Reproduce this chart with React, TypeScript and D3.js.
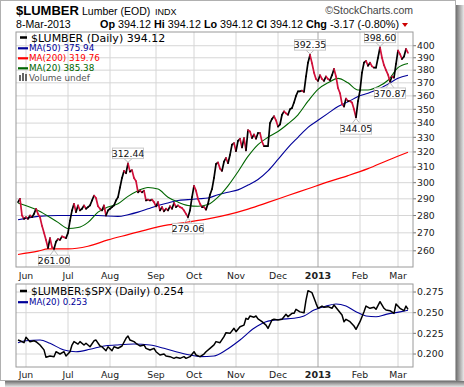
import React from 'react';
import * as d3 from 'd3';

// ---------- DATA ----------
const startDate = '2012-05-25';
const endDate = '2013-03-08';
const holidays = ['2012-05-28', '2012-07-04', '2012-09-03', '2012-10-29', '2012-10-30', '2012-11-22', '2012-12-25', '2013-01-01', '2013-01-21', '2013-02-18'];

// daily closes, one per trading day
const closes = [
  288, 290, 280, 278, 279, 278, 280, 279, 281, 284,
  281, 279, 274, 270, 266, 261.5, 267, 262, 261, 265,
  266.5, 266, 268, 267.5, 267, 270, 277, 283, 287, 282,
  286, 283, 284, 286, 284, 285, 286, 289, 292, 290.5,
  285.5, 284, 283, 286, 280, 283, 284, 285, 286, 289,
  291, 297, 303, 307.5, 306, 312.44, 307, 308, 303, 301,
  294, 295, 294, 295, 289, 289.5, 289, 289.5, 288, 285.5,
  288, 283, 285, 282.5, 284, 283, 285.5, 284, 287.5, 285,
  286, 285, 284.5, 283, 281, 279.06, 283, 291, 298, 295,
  290, 287, 285, 285, 283.5, 287, 292.5, 296, 303, 312,
  313, 309, 307.5, 313.5, 316, 312.5, 318, 325, 326, 320.5,
  327.5, 329, 323, 329.5, 321, 335, 334, 329.5, 332, 329,
  333, 333, 327, 324, 324, 324, 340, 343, 345, 342,
  337.5, 339, 346, 348.5, 347, 346, 350, 351, 355, 360,
  363.5, 363.5, 364, 363, 375, 386, 392.35, 385.5, 378, 373,
  371.5, 376, 373, 371.5, 375, 373, 372, 376, 381, 375,
  366, 362, 354, 352, 358, 356, 356, 355, 350, 344.05,
  356, 364, 378, 386, 387.5, 383.5, 386, 383, 382, 382,
  390, 398.6, 390, 384, 380, 376.5, 370.87, 375, 374, 385,
  396, 393, 389, 391, 397.29, 394.12,
];

const ma20Idx = [0, 10, 20, 25, 30, 35, 40, 45, 50, 55, 60, 65, 70, 75, 80, 85, 90, 95, 100, 105, 110, 115, 120, 125, 130, 135, 140, 145, 150, 155, 160, 165, 170, 175, 180, 185, 190, 195];
const ma20Val = [287.5, 283, 276, 272.5, 273, 276, 282, 285, 287, 291.5, 295, 297, 296, 291, 288, 286, 285.5, 286.5, 291, 298, 307, 317, 325, 330, 334, 339.5, 346, 356, 365, 370, 373.5, 370, 364.5, 364.5, 367, 372, 382, 385.38];

const ma50Idx = [0, 10, 20, 30, 40, 50, 55, 60, 65, 70, 75, 80, 85, 90, 95, 100, 105, 110, 115, 120, 125, 130, 135, 140, 145, 150, 155, 160, 165, 170, 175, 180, 185, 190, 195];
const ma50Val = [277.5, 279.5, 280, 280, 280, 279.5, 280.5, 282, 284, 286, 287.5, 289, 289.5, 290, 290.5, 292.5, 294, 295.5, 298.5, 302, 307.5, 315, 323, 330, 337, 342, 347, 352, 355.5, 359.5, 362, 365, 369, 373.5, 375.94];

const ma200Idx = [0, 10, 15, 25, 35, 45, 55, 65, 75, 85, 95, 105, 115, 125, 135, 145, 155, 165, 175, 185, 195];
const ma200Val = [258, 259.8, 261, 261, 262.5, 266, 269, 272, 274.5, 276.2, 278, 280.5, 283.8, 287.8, 292, 296.2, 300.5, 304.5, 309, 314.5, 319.76];

const ratioIdx = [0, 1, 3, 4, 6, 8, 9, 11, 13, 14, 16, 18, 19, 21, 23, 24, 26, 27, 28, 30, 31, 33, 34, 36, 38, 39, 41, 42, 44, 45, 47, 48, 50, 52, 54, 55, 56, 58, 59, 61, 63, 64, 66, 68, 69, 71, 73, 74, 76, 78, 79, 81, 83, 84, 86, 88, 89, 91, 93, 94, 96, 98, 99, 101, 103, 104, 106, 108, 109, 111, 113, 114, 115, 116, 118, 119, 120, 122, 124, 125, 127, 128, 130, 132, 134, 135, 137, 138, 139, 141, 143, 144, 145, 147, 149, 150, 152, 153, 155, 157, 158, 160, 162, 163, 164, 166, 168, 169, 171, 173, 174, 176, 178, 179, 181, 183, 184, 186, 188, 189, 191, 193, 194, 195];
const ratioVal = [0.217, 0.2161, 0.2137, 0.2202, 0.2149, 0.216, 0.2149, 0.2109, 0.205, 0.196, 0.1976, 0.1967, 0.2028, 0.2, 0.2028, 0.1976, 0.2028, 0.2109, 0.215, 0.212, 0.215, 0.2109, 0.213, 0.2088, 0.216, 0.2169, 0.2097, 0.2088, 0.204, 0.2088, 0.204, 0.2088, 0.207, 0.2097, 0.219, 0.2218, 0.2169, 0.215, 0.213, 0.2097, 0.211, 0.2069, 0.2048, 0.2069, 0.2028, 0.1988, 0.2, 0.1976, 0.1968, 0.1948, 0.196, 0.1948, 0.1968, 0.1948, 0.1968, 0.2028, 0.1988, 0.1968, 0.2, 0.2028, 0.2069, 0.211, 0.215, 0.2137, 0.221, 0.2258, 0.225, 0.2311, 0.227, 0.233, 0.235, 0.2432, 0.242, 0.246, 0.2445, 0.246, 0.2425, 0.2391, 0.235, 0.231, 0.2411, 0.242, 0.2411, 0.242, 0.248, 0.2452, 0.2492, 0.2492, 0.254, 0.251, 0.2499, 0.2653, 0.2766, 0.2742, 0.2613, 0.2553, 0.258, 0.2565, 0.2573, 0.2553, 0.2593, 0.2532, 0.2472, 0.2391, 0.242, 0.2391, 0.2339, 0.2299, 0.2391, 0.2512, 0.258, 0.2553, 0.2565, 0.2541, 0.2633, 0.2553, 0.2532, 0.2524, 0.2492, 0.2605, 0.2553, 0.2524, 0.258, 0.254];

const ratioMaIdx = [0, 4, 11, 16, 23, 29, 36, 43, 49, 58, 66, 73, 79, 86, 91, 98, 104, 111, 118, 124, 131, 138, 143, 148, 154, 159, 164, 169, 174, 179, 184, 191, 195];
const ratioMaVal = [0.2137, 0.216, 0.2169, 0.2129, 0.2048, 0.2028, 0.2057, 0.2097, 0.2109, 0.2121, 0.2109, 0.2069, 0.2028, 0.1988, 0.1968, 0.1976, 0.2048, 0.2169, 0.2311, 0.2391, 0.242, 0.2432, 0.246, 0.2532, 0.258, 0.2605, 0.258, 0.2512, 0.246, 0.245, 0.248, 0.251, 0.253];

const priceTicks = [260, 270, 280, 290, 300, 310, 320, 330, 340, 350, 360, 370, 380, 390, 400];
const ratioTicks = [0.2, 0.225, 0.25, 0.275];

const annIdx = [18, 55, 85, 146, 169, 181, 186];
const annSide = ['below', 'above', 'below', 'above', 'below', 'above', 'below'];

// ---------- LAYOUT ----------
const W = 464, H = 387;
const L = 16, R = 413;
const T1 = 32, B1 = 267;
const T2 = 284, B2 = 367;
const FV = "'DejaVu Sans', Verdana, sans-serif";
const FA = "'Liberation Sans', Arial, sans-serif";
const UP = '#000000', DOWN = '#d0103a';
const C50 = '#000099', C200 = '#ff0000', C20 = '#006600';
const GRID = '#d6d6d6';

export default function App() {
  const parse = d3.timeParse('%Y-%m-%d');
  const fmt = d3.timeFormat('%Y-%m-%d');
  const days = d3.timeDay
    .range(parse(startDate)!, d3.timeDay.offset(parse(endDate)!, 1))
    .filter((d) => d.getDay() !== 0 && d.getDay() !== 6 && !holidays.includes(fmt(d)));
  const n = Math.min(days.length, closes.length);

  const x = d3.scaleLinear().domain([-1, n + 1.5]).range([L, R]);
  const y1 = d3.scaleLog().domain([251.3, 411.7]).range([B1, T1]);
  const y2 = d3.scaleLinear().domain([0.1843, 0.2847]).range([B2, T2]);

  const monthTicks: { i: number; label: string; year: boolean }[] = [];
  for (let i = 1; i < n; i++) {
    if (days[i].getMonth() !== days[i - 1].getMonth()) {
      const jan = days[i].getMonth() === 0;
      monthTicks.push({ i, label: jan ? d3.timeFormat('%Y')(days[i]) : d3.timeFormat('%b')(days[i]), year: jan });
    }
  }
  const labelX = (i: number) => Math.max(x(i), L + 7);

  const maLine = (ys: (v: number) => number) =>
    d3.line<[number, number]>().x((d) => x(d[0])).y((d) => ys(d[1])).curve(d3.curveMonotoneX);
  const zip = (a: number[], b: number[]) => a.map((v, k) => [v, b[k]] as [number, number]);

  const last = closes[n - 1];
  const prev = closes[n - 2];
  const chg = last - prev;
  const pct = (chg / prev) * 100;
  const lastDay = days[n - 1];
  const dateStr = `${lastDay.getDate()}-${d3.timeFormat('%b-%Y')(lastDay)}`;

  const segs = [] as JSX.Element[];
  for (let i = 1; i < n; i++) {
    segs.push(
      <line key={i} x1={x(i - 1)} y1={y1(closes[i - 1])} x2={x(i)} y2={y1(closes[i])}
        stroke={closes[i] >= closes[i - 1] ? UP : DOWN} strokeWidth={1.7} strokeLinecap="round" />
    );
  }

  const ratioLine = d3.line<[number, number]>().x((d) => x(d[0])).y((d) => y2(d[1]));

  return (
    <svg width={W} height={H} style={{ position: 'absolute', left: 0, top: 0, background: '#fff' }}>
      <defs>
        <linearGradient id="shR" x1="0" x2="1" y1="0" y2="0">
          <stop offset="0" stopColor="#6f6f6f" />
          <stop offset="1" stopColor="#e8e8e8" />
        </linearGradient>
        <linearGradient id="shB" x1="0" x2="0" y1="0" y2="1">
          <stop offset="0" stopColor="#6f6f6f" />
          <stop offset="1" stopColor="#e8e8e8" />
        </linearGradient>
        <clipPath id="c1"><rect x={L} y={T1} width={R - L} height={B1 - T1} /></clipPath>
        <clipPath id="c2"><rect x={L} y={T2} width={R - L} height={B2 - T2} /></clipPath>
      </defs>
      <rect x={0} y={0} width={W} height={H} fill="#fff" />
      {/* frame + shadow */}
      <rect x={456} y={5} width={8} height={H - 5} fill="url(#shR)" />
      <rect x={5} y={381} width={W - 5} height={6} fill="url(#shB)" />
      <rect x={0.5} y={0.5} width={455} height={380} fill="#fff" stroke="#b0b0b0" />

      {/* header */}
      <text x={16} y={14.5} fontFamily={FA} fontWeight="bold" fontSize={13}>$LUMBER</text>
      <text x={82} y={14.5} fontFamily={FA} fontSize={10.5}>Lumber (EOD)</text>
      <text x={155} y={14.5} fontFamily={FA} fontSize={9}>INDX</text>
      <text x={413} y={14} textAnchor="end" fontFamily={FA} fontSize={10.5} fill="#444">©StockCharts.com</text>
      <text x={16} y={27.5} fontFamily={FA} fontSize={10.6}>{dateStr}</text>
      <text x={399} y={27.5} textAnchor="end" fontFamily={FA} fontSize={10.8}>
        <tspan fontWeight="bold">Op</tspan> {last.toFixed(2)} <tspan fontWeight="bold">Hi</tspan> {last.toFixed(2)}{' '}
        <tspan fontWeight="bold">Lo</tspan> {last.toFixed(2)} <tspan fontWeight="bold">Cl</tspan> {last.toFixed(2)}{' '}
        <tspan fontWeight="bold">Chg</tspan> {chg.toFixed(2)} ({pct.toFixed(2)}%)
      </text>
      <path d="M402,23 L408,23 L405,27 Z" fill="#cc0000" />

      {/* ===== top panel ===== */}
      {priceTicks.map((t) => (
        <g key={t}>
          <line x1={L} x2={R} y1={y1(t)} y2={y1(t)} stroke={GRID} />
          <line x1={R} x2={R + 3} y1={y1(t)} y2={y1(t)} stroke="#777" />
          <text x={R + 4} y={y1(t)} dy="0.35em" fontFamily={FV} fontSize={9.3} fill="#222">{t}</text>
        </g>
      ))}
      {monthTicks.map((m) => (
        <g key={'g1' + m.i}>
          <line x1={x(m.i)} x2={x(m.i)} y1={T1} y2={B1} stroke={m.year ? '#a8a8a8' : GRID} />
          <text x={labelX(m.i)} y={279} textAnchor="middle" fontFamily={FV} fontSize={m.year ? 9.5 : 9.3}
            fontWeight={m.year ? 'bold' : 'normal'} fill="#222">{m.label}</text>
        </g>
      ))}
      <rect x={L} y={T1} width={R - L} height={B1 - T1} fill="none" stroke="#9a9a9a" />

      <g clipPath="url(#c1)">
        <path d={maLine(y1)(zip(ma200Idx, ma200Val)) || ''} fill="none" stroke={C200} strokeWidth={1.2} />
        <path d={maLine(y1)(zip(ma50Idx, ma50Val)) || ''} fill="none" stroke={C50} strokeWidth={1.1} />
        <path d={maLine(y1)(zip(ma20Idx, ma20Val)) || ''} fill="none" stroke={C20} strokeWidth={1.1} />
        {segs}
      </g>

      {annIdx.map((i, k) => {
        const px = x(i), py = y1(closes[i]);
        const above = annSide[k] === 'above';
        const cy = above ? py - 10 : py + 11.5;
        const bw = 31, bh = 10.5;
        const edge = above ? cy + bh / 2 : cy - bh / 2;
        return (
          <g key={'a' + i}>
            <path d={`M${px - 4},${edge} L${px},${py + (above ? -1 : 1)} L${px + 4},${edge}`} fill="none" stroke="#bbb" />
            <rect x={px - bw / 2} y={cy - bh / 2} width={bw} height={bh} fill="#fff" stroke="#c8c8c8" />
            <text x={px} y={cy} dy="0.36em" textAnchor="middle" fontFamily={FV} fontSize={9.3} fill="#111">
              {closes[i].toFixed(2)}
            </text>
          </g>
        );
      })}

      {/* top legend */}
      <line x1={20} x2={27} y1={37.5} y2={37.5} stroke="#000" strokeWidth={2.5} />
      <text x={31} y={41.5} fontFamily={FV} fontSize={11}>$LUMBER (Daily) {last.toFixed(2)}</text>
      {[
        { c: C50, t: `MA(50) ${ma50Val[ma50Val.length - 1].toFixed(2)}`, y: 48.3 },
        { c: C200, t: `MA(200) ${ma200Val[ma200Val.length - 1].toFixed(2)}`, y: 58.3 },
        { c: C20, t: `MA(20) ${ma20Val[ma20Val.length - 1].toFixed(2)}`, y: 68.3 },
      ].map((l) => (
        <g key={l.t}>
          <line x1={18} x2={28} y1={l.y} y2={l.y} stroke={l.c} strokeWidth={2.2} />
          <text x={29} y={l.y} dy="0.36em" fontFamily={FV} fontSize={8.8} fill={l.c}>{l.t}</text>
        </g>
      ))}
      <g fill="#666">
        <rect x={19} y={75} width={2} height={6} />
        <rect x={22} y={73} width={2} height={8} />
        <rect x={25} y={74} width={2} height={7} />
      </g>
      <text x={29} y={77.7} dy="0.36em" fontFamily={FV} fontSize={8.8} fill="#555">Volume undef</text>

      {/* ===== bottom panel ===== */}
      {ratioTicks.map((t) => (
        <g key={t}>
          <line x1={L} x2={R} y1={y2(t)} y2={y2(t)} stroke={GRID} />
          <line x1={R} x2={R + 3} y1={y2(t)} y2={y2(t)} stroke="#777" />
          <text x={R + 4} y={y2(t)} dy="0.35em" fontFamily={FV} fontSize={9.3} fill="#222">{t.toFixed(3)}</text>
        </g>
      ))}
      {monthTicks.map((m) => (
        <g key={'g2' + m.i}>
          <line x1={x(m.i)} x2={x(m.i)} y1={T2} y2={B2} stroke={m.year ? '#a8a8a8' : GRID} />
          <text x={labelX(m.i)} y={378} textAnchor="middle" fontFamily={FV} fontSize={m.year ? 9.5 : 9.3}
            fontWeight={m.year ? 'bold' : 'normal'} fill="#222">{m.label}</text>
        </g>
      ))}
      <rect x={L} y={T2} width={R - L} height={B2 - T2} fill="none" stroke="#9a9a9a" />
      <g clipPath="url(#c2)">
        <path d={maLine(y2)(zip(ratioMaIdx, ratioMaVal)) || ''} fill="none" stroke="#000099" strokeWidth={1.1} />
        <path d={ratioLine(zip(ratioIdx, ratioVal)) || ''} fill="none" stroke="#000" strokeWidth={1.5} strokeLinejoin="round" />
      </g>
      <line x1={20} x2={27} y1={291} y2={291} stroke="#000" strokeWidth={2.5} />
      <text x={31} y={291} dy="0.36em" fontFamily={FV} fontSize={10.6}>$LUMBER:$SPX (Daily) {ratioVal[ratioVal.length - 1].toFixed(3)}</text>
      <line x1={18} x2={28} y1={302.2} y2={302.2} stroke="#000099" strokeWidth={2.2} />
      <text x={29} y={302.2} dy="0.36em" fontFamily={FV} fontSize={8.6} fill="#000099">MA(20) {ratioMaVal[ratioMaVal.length - 1].toFixed(3)}</text>
    </svg>
  );
}
